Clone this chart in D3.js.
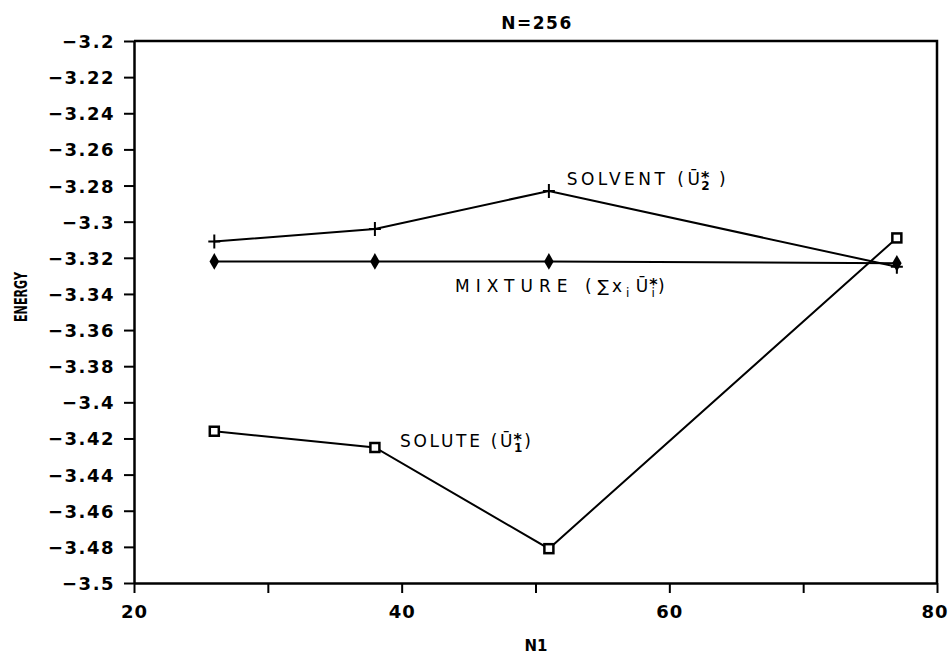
<!DOCTYPE html>
<html>
<head>
<meta charset="utf-8">
<script src="https://cdn.jsdelivr.net/npm/d3@7"></script>
<style>
	body { margin: 0; background: #fff; }
	svg { display: block; }
	.tick text { font-family: "DejaVu Sans", sans-serif; font-weight: bold; font-size: 18px; fill: #000; letter-spacing: 1.5px; }
	.ann { font-family: "DejaVu Sans", sans-serif; font-size: 17px; fill: #000; }
</style>
</head>
<body>
<div id="chart"></div>
<script>
// N1 values (number of solute molecules out of N=256)
var n1 = [26, 38, 51, 77];
var solvent = [-3.311, -3.304, -3.283, -3.325];
var mixture = [-3.322, -3.322, -3.322, -3.323];
var solute = [-3.416, -3.425, -3.481, -3.309];

var yTicks = [-3.2, -3.22, -3.24, -3.26, -3.28, -3.3, -3.32, -3.34, -3.36, -3.38, -3.4, -3.42, -3.44, -3.46, -3.48, -3.5];
var xTicks = [20, 30, 40, 50, 60, 70, 80];
var xLabels = [20, 40, 60, 80];

var width = 949, height = 655;
var margin = {top: 41, right: 12, bottom: 72, left: 134};

var svg = d3.select("#chart").append("svg")
	.attr("width", width)
	.attr("height", height);

var x = d3.scaleLinear().domain([20, 80]).range([margin.left, width - margin.right]);
var y = d3.scaleLinear().domain([-3.5, -3.2]).range([height - margin.bottom, margin.top]);

function fmt(v) {
	return String(+v.toFixed(2)).replace("-", "\u2212");
}

//Frame (top and right side)
svg.append("path")
	.attr("d", "M" + x(20) + "," + y(-3.2) + "H" + x(80) + "V" + y(-3.5))
	.style("fill", "none")
	.style("stroke", "#000")
	.style("stroke-width", 2.5);

//Left axis
var yAxis = svg.append("g")
	.attr("transform", "translate(" + x(20) + ",0)")
	.call(d3.axisLeft(y).tickValues(yTicks).tickFormat(fmt).tickSize(10).tickSizeOuter(0).tickPadding(9));
yAxis.select(".domain").style("stroke-width", 2.5);
yAxis.selectAll(".tick line").style("stroke-width", 2);
yAxis.selectAll(".tick text").attr("dy", "0.36em");

//Bottom axis
var xAxis = svg.append("g")
	.attr("transform", "translate(0," + y(-3.5) + ")")
	.call(d3.axisBottom(x).tickValues(xTicks).tickSize(10).tickSizeOuter(0).tickPadding(12)
		.tickFormat(function(d) { return xLabels.indexOf(d) >= 0 ? d : ""; }));
xAxis.select(".domain").style("stroke-width", 2.5);
xAxis.selectAll(".tick line").style("stroke-width", 2);
xAxis.selectAll(".tick text").style("letter-spacing", "1px");
//last label sits at the window edge: keep it inside
xAxis.selectAll(".tick text").filter(function(d) { return d == 80; })
	.attr("text-anchor", "end")
	.attr("x", width - 1 - x(80));

//Titles
svg.append("text")
	.attr("x", 537).attr("y", 29)
	.attr("text-anchor", "middle")
	.style("font-family", "DejaVu Sans, sans-serif")
	.style("font-weight", "bold")
	.style("font-size", "17px")
	.style("letter-spacing", "1.5px")
	.text("N=256");
svg.append("text")
	.attr("x", 536).attr("y", 651)
	.attr("text-anchor", "middle")
	.style("font-family", "DejaVu Sans, sans-serif")
	.style("font-weight", "bold")
	.style("font-size", "15px")
	.text("N1");
svg.append("text")
	.attr("transform", "translate(27,297) rotate(-90)")
	.attr("text-anchor", "middle")
	.attr("textLength", 50)
	.attr("lengthAdjust", "spacingAndGlyphs")
	.style("font-family", "DejaVu Sans, sans-serif")
	.style("font-weight", "bold")
	.style("font-size", "17px")
	.text("ENERGY");

//Lines
var line = d3.line()
	.x(function(d) { return x(d[0]); })
	.y(function(d) { return y(d[1]); });

var series = [solvent, mixture, solute];
series.forEach(function(s) {
	svg.append("path")
		.datum(d3.zip(n1, s))
		.attr("d", line)
		.style("fill", "none")
		.style("stroke", "#000")
		.style("stroke-width", 2);
});

//Markers: plus for solvent
svg.selectAll(".plus").data(d3.zip(n1, solvent)).enter()
	.append("path")
	.attr("d", function(d) { return "M" + (x(d[0]) - 6) + "," + y(d[1]) + "h12M" + x(d[0]) + "," + (y(d[1]) - 7) + "v14"; })
	.style("stroke", "#000")
	.style("stroke-width", 2);

//diamonds for mixture
svg.selectAll(".diamond").data(d3.zip(n1, mixture)).enter()
	.append("path")
	.attr("d", d3.symbol().type(d3.symbolDiamond).size(80))
	.attr("transform", function(d) { return "translate(" + x(d[0]) + "," + y(d[1]) + ")"; })
	.style("fill", "#000");

//squares for solute
svg.selectAll(".square").data(d3.zip(n1, solute)).enter()
	.append("rect")
	.attr("x", function(d) { return x(d[0]) - 4.5; })
	.attr("y", function(d) { return y(d[1]) - 4.5; })
	.attr("width", 9)
	.attr("height", 9)
	.style("fill", "#fff")
	.style("stroke", "#000")
	.style("stroke-width", 2.5);

//Annotations (anchored in data coordinates)
function addLabel(px, py, parts) {
	var t = svg.append("text").attr("class", "ann")
		.attr("x", x(px)).attr("y", y(py));
	parts.forEach(function(p) {
		var ts = t.append("tspan").text(p.t)
			.style("letter-spacing", (p.ls || 0) + "px");
		if (p.dx) ts.attr("dx", p.dx);
		if (p.dy) ts.attr("dy", p.dy);
		if (p.size) ts.style("font-size", p.size);
		if (p.bold) ts.style("font-weight", "bold");
	});
}

addLabel(52.33, -3.2797, [
	{t: "SOLVENT (", ls: 3.5},
	{t: "\u016A", ls: 1},
	{t: "*", dy: -2, size: "16px", bold: true},
	{t: "2", dx: -8, dy: 7, size: "12px", bold: true},
	{t: " )", dx: 2, dy: -5, ls: 2}
]);
addLabel(43.99, -3.3388, [
	{t: "MIXTURE (", ls: 6},
	{t: "\u2211x", ls: 3},
	{t: "i", dx: 1, dy: 5, size: "12px"},
	{t: " \u016A", dy: -5, ls: 1},
	{t: "*", dy: -2, size: "16px", bold: true},
	{t: "i", dx: -6, dy: 7, size: "12px"},
	{t: ")", dx: 3, dy: -5}
]);
addLabel(39.88, -3.4245, [
	{t: "SOLUTE (", ls: 2.7},
	{t: "\u016A", ls: 1},
	{t: "*", dy: -2, size: "16px", bold: true},
	{t: "1", dx: -8, dy: 7, size: "12px", bold: true},
	{t: ")", dx: 2, dy: -5}
]);
</script>
</body>
</html>
